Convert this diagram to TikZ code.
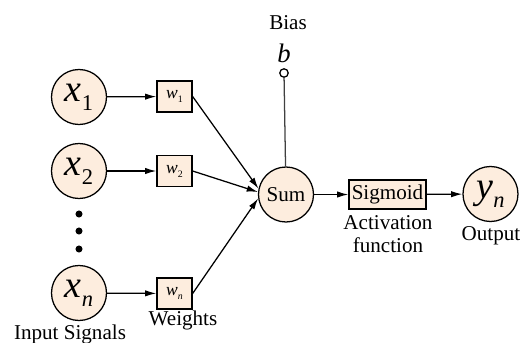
\documentclass[tikz,border=0pt]{standalone}
\usepackage{fontspec}
\setmainfont{Liberation Serif}
\usepackage{amsmath}
\usetikzlibrary{arrows.meta}
\definecolor{peach}{RGB}{253,237,222}
\newcommand{\varsub}[3]{\textit{#1}\raisebox{-0.5ex}{\fontsize{#3}{#3}\selectfont#2}}

\begin{document}
\begin{tikzpicture}[x=0.025cm,y=-0.025cm,line width=0.9pt,
    >={Latex[length=8pt,width=4.5pt]},
    neuron/.style={shape=circle,draw,fill=peach,minimum size=1.375cm,inner sep=0pt},
    wbox/.style={shape=rectangle,draw,fill=peach,minimum width=0.875cm,minimum height=0.775cm,inner sep=0pt,font=\fontsize{12.5}{13}\selectfont},
    lbl/.style={font=\fontsize{15}{16.5}\selectfont,align=center},
    big/.style={font=\fontsize{27}{28}\selectfont},
    dot/.style={shape=circle,fill=black,minimum size=5pt,inner sep=0pt}]
  \useasboundingbox (0,0) rectangle (522,343);
  \node[neuron,big] (x1) at (79,97) {\varsub{x}{1}{16}};
  \node[neuron,big] (x2) at (79,171) {\varsub{x}{2}{16}};
  \node[neuron,big] (xn) at (79,293) {\varsub{x}{\textit{n}}{16}};
  \foreach \y [count=\i] in {214,231,249}
    \node[dot] (d\i) at (79,\y) {};
  \node[wbox] (w1) at (174.5,96.5) {\varsub{w}{1}{7}};
  \node[wbox] (w2) at (174.5,171) {\varsub{w}{2}{7}};
  \node[wbox] (wn) at (174.5,293.5) {\varsub{w}{\textit{n}}{7}};
  \node[neuron,lbl] (sum) at (286,194.5) {Sum};
  \node[shape=rectangle,draw,fill=peach,minimum width=1.925cm,minimum height=0.725cm,inner sep=0pt,lbl] (sig) at (387.5,194.5) {Sigmoid};
  \node[neuron,big] (yn) at (490.5,194) {\varsub{y}{\textit{n}}{16}};
  \node[shape=circle,draw,fill=white,minimum size=6pt,inner sep=0pt] (bdot) at (284,73) {};
  \node[font=\fontsize{19}{20}\selectfont] (b) at (284,53) {\textit{b}};
  \node[lbl] (bias) at (288,23) {Bias};
  \node[lbl] (inlbl) at (70,334) {Input Signals};
  \node[lbl] (wlbl) at (183,320) {Weights};
  \node[lbl] (actlbl) at (388,234.5) {Activation\\function};
  \node[lbl] (outlbl) at (491,236) {Output};
  \draw[->] (x1) -- (w1);
  \draw[->] (x2) -- (w2);
  \draw[->] (xn) -- (wn);
  \draw[->] (w1.east) -- (sum.168);
  \draw[->] (w2.east) -- (sum.175);
  \draw[->] (wn.east) -- (sum.188);
  \draw[->] (sum) -- (sig);
  \draw[->] (sig) -- (yn);
  \draw[black!75] (bdot) -- (sum);
\end{tikzpicture}
\end{document}
